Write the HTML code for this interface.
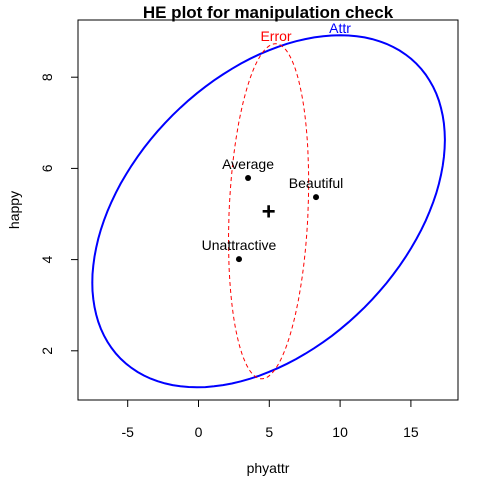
<!DOCTYPE html>
<html><head><meta charset="utf-8"><style>
body{margin:0;background:#fff}
svg{display:block;font-family:"Liberation Sans",sans-serif}
</style></head><body>
<svg id="chart" width="480" height="480"></svg>
<script>
const groups=["Beautiful","Average","Unattractive"];
const groupX=[8.3,3.5,2.86];
const groupY=[5.37,5.79,4.01];
const grandMean=[4.95,5.06];
const hypCov=[155,19.5,14.9]; // Sxx,Sxy,Syy
const errCov=[8.0,1.8,13.5];
const xTicks=[-5,0,5,10,15];
const yTicks=[2,4,6,8];
const ns="http://www.w3.org/2000/svg";
const svg=document.getElementById('chart');
const X=v=>198.5+v*14.16, Y=v=>442-v*45.6;
function mk(t,a,p){const e=document.createElementNS(ns,t);for(const k in a)e.setAttribute(k,a[k]);(p||svg).appendChild(e);return e;}
let e;
e=mk('rect',{x:78,y:20,width:380,height:380,fill:'none',stroke:'#000'});


e=mk('text',{x:268,y:18,'text-anchor':'middle','font-size':17,'font-weight':'bold'});e.textContent='HE plot for manipulation check';


e=mk('text',{x:268,y:473,'text-anchor':'middle','font-size':14});e.textContent='phyattr';


e=mk('text',{x:19,y:210,'text-anchor':'middle','font-size':14,transform:'rotate(-90 19 210)'});e.textContent='happy';


xTicks.forEach(v=>{mk('line',{x1:X(v),x2:X(v),y1:400,y2:407,stroke:'#000'});
 const t=mk('text',{x:X(v),y:437,'text-anchor':'middle','font-size':14});t.textContent=v;
 
 });
yTicks.forEach(v=>{mk('line',{x1:71,x2:78,y1:Y(v),y2:Y(v),stroke:'#000'});
 const t=mk('text',{x:0,y:0,'text-anchor':'middle','font-size':14,transform:`translate(52 ${Y(v)}) rotate(-90)`});t.textContent=v;
 
 });
function ell(c){const sx=Math.sqrt(c[0]),b=c[1]/sx,d=Math.sqrt(c[2]-c[1]*c[1]/c[0]);let s='';
 for(let i=0;i<=120;i++){const t=i/120*2*Math.PI;s+=(i?'L':'M')+X(grandMean[0]+sx*Math.cos(t)).toFixed(1)+','+Y(grandMean[1]+b*Math.cos(t)+d*Math.sin(t)).toFixed(1);}return s+'Z';}
e=mk('path',{d:ell(hypCov),fill:'none',stroke:'#0000ff','stroke-width':2});


e=mk('path',{d:ell(errCov),fill:'none',stroke:'#ff0000','stroke-width':1,'stroke-dasharray':'4,3'});


e=mk('text',{x:340,y:33,'text-anchor':'middle','font-size':14,fill:'#0000ff'});e.textContent='Attr';


e=mk('text',{x:276,y:41,'text-anchor':'middle','font-size':14,fill:'#ff0000'});e.textContent='Error';


groups.forEach((g,i)=>{const p=mk('circle',{cx:X(groupX[i]),cy:Y(groupY[i]),r:3,fill:'#000'});
 
 
 const t=mk('text',{x:X(groupX[i]),y:Y(groupY[i])-9,'text-anchor':'middle','font-size':14});t.textContent=g;
 
 });
e=mk('text',{x:X(grandMean[0]),y:Y(grandMean[1])+8,'text-anchor':'middle','font-size':24,'font-weight':'bold'});e.textContent='+';


</script>
</body></html>
